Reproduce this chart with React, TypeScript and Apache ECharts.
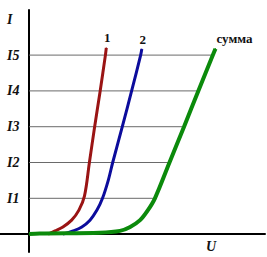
import React, { useEffect, useRef } from "react";
import * as echarts from "echarts";

// tick labels on the current axis (values are current levels)
const yTickValues = [1, 2, 3, 4, 5, 6];
const yTickLabels = ["I1", "I2", "I3", "I4", "I5", "I"];
const xTickValues = [6.25];
const xTickLabels = ["U"];

// curve names
const curveNames = ["1", "2", "сумма"];

// curve 1 (red)
const redU = [0.65, 0.89, 1.16, 1.46, 1.71, 1.9, 2.07, 2.25, 2.44, 2.62, 2.65];
const redI = [0, 0.09, 0.2, 0.39, 0.67, 1.06, 2, 3, 4, 5, 5.2];

// curve 2 (blue)
const blueU = [1.16, 1.51, 1.81, 2.09, 2.33, 2.52, 2.72, 2.87, 3.2, 3.52, 3.83, 3.87];
const blueI = [0, 0.09, 0.2, 0.39, 0.67, 1, 1.51, 2, 3, 4, 5, 5.17];

// sum curve (green)
const sumU = [0, 0.37, 2.43, 3.12, 3.47, 3.81, 4.08, 4.32, 4.82, 5.32, 5.81, 6.31, 6.4];
const sumI = [0, 0.02, 0.04, 0.09, 0.2, 0.39, 0.67, 1, 2, 3, 4, 5, 5.18];

// gridline levels and where each meets the sum curve
const gridLevels = [1, 2, 3, 4, 5];
const gridEnds = [4.32, 4.82, 5.32, 5.81, 6.31];

const SERIF = "'Liberation Serif', 'Times New Roman', serif";

const serifLabel = {
  fontFamily: SERIF,
  fontWeight: "bold" as const,
  fontSize: 13,
  color: "#111",
};

function curve(
  u: number[],
  i: number[],
  name: string,
  color: string,
  width: number,
  labelOffset: number[],
  z: number
) {
  const data = u.map((x, k) => {
    if (k === u.length - 1) {
      return {
        value: [x, i[k]],
        label: {
          show: true,
          formatter: name,
          position: "top",
          distance: 3,
          offset: labelOffset,
          ...serifLabel,
        },
      };
    }
    return { value: [x, i[k]] };
  });
  return {
    type: "line",
    name,
    data,
    smooth: 0.35,
    symbol: "circle",
    symbolSize: 1,
    showSymbol: true,
    itemStyle: { color },
    lineStyle: { color, width, cap: "butt" },
    z,
    silent: true,
  };
}

export default function App() {
  const ref = useRef<HTMLDivElement>(null);
  useEffect(() => {
    if (!ref.current) return;
    const chart = echarts.init(ref.current, null, { renderer: "svg" });
    const gridSeries = gridLevels.map((lv, k) => ({
      type: "line",
      data: [
        [0, lv],
        [gridEnds[k], lv],
      ],
      symbol: "none",
      lineStyle: { color: "#6a6a6a", width: 1 },
      z: 1,
      silent: true,
    }));
    chart.setOption({
      animation: false,
      backgroundColor: "#ffffff",
      grid: {
        left: 0,
        right: 2,
        top: 10,
        bottom: 5,
        containLabel: false,
        outerBoundsMode: "none",
      },
      xAxis: {
        type: "value",
        min: -1,
        max: 8.1,
        splitLine: { show: false },
        axisTick: { show: false },
        axisLine: { onZero: true, lineStyle: { color: "#000", width: 2 } },
        axisLabel: {
          customValues: xTickValues,
          formatter: (v: number) => {
            const idx = xTickValues.indexOf(v);
            return idx >= 0 ? xTickLabels[idx] : "";
          },
          margin: -13,
          verticalAlign: "top",
          fontFamily: SERIF,
          fontStyle: "italic",
          fontWeight: "bold",
          fontSize: 14,
          color: "#111",
        },
      },
      yAxis: {
        type: "value",
        min: -0.5,
        max: 6.26,
        splitLine: { show: false },
        axisTick: { show: false },
        axisLine: { onZero: true, lineStyle: { color: "#000", width: 2 } },
        axisLabel: {
          customValues: yTickValues,
          formatter: (v: number) => {
            const idx = yTickValues.indexOf(v);
            return idx >= 0 ? yTickLabels[idx] : "";
          },
          align: "left",
          margin: -7,
          fontFamily: SERIF,
          fontStyle: "italic",
          fontWeight: "bold",
          fontSize: 14,
          color: "#111",
        },
      },
      series: [
        ...gridSeries,
        curve(redU, redI, curveNames[0], "#9a1414", 3, [1, 0], 3),
        curve(blueU, blueI, curveNames[1], "#0c0c9c", 3, [1, 0], 4),
        curve(sumU, sumI, curveNames[2], "#0b8a0b", 4, [19, 0], 5),
      ],
    });
    return () => chart.dispose();
  }, []);
  return (
    <div
      ref={ref}
      style={{ position: "fixed", left: 0, top: 0, width: 267, height: 257 }}
    />
  );
}
